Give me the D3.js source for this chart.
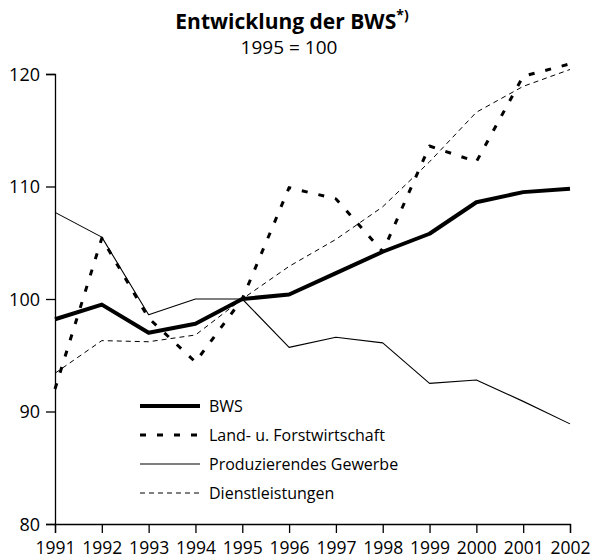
<!DOCTYPE html>
<html>
<head>
<meta charset="utf-8">
<script src="https://cdn.jsdelivr.net/npm/d3@7"></script>
<style>
  body { margin: 0; background: #fff; }
  text { font-family: "Open Sans", "DejaVu Sans", sans-serif; fill: #000; }
</style>
</head>
<body>
<script>
// data (1995 = 100)
var years = [1991, 1992, 1993, 1994, 1995, 1996, 1997, 1998, 1999, 2000, 2001, 2002];
var bws = [98.2, 99.5, 97.0, 97.8, 100, 100.4, 102.3, 104.2, 105.8, 108.6, 109.5, 109.8];
var land = [92.0, 105.4, 98.3, 94.4, 100, 109.9, 108.9, 104.2, 113.6, 112.2, 119.8, 120.9];
var prod = [107.7, 105.5, 98.6, 100.0, 100, 95.7, 96.6, 96.1, 92.5, 92.8, 90.9, 88.9];
var dienst = [93.4, 96.3, 96.2, 96.8, 100, 102.9, 105.3, 108.2, 112.2, 116.6, 118.9, 120.4];
var yTicks = [80, 90, 100, 110, 120];

var series = [
  {name: "BWS", values: bws, width: 4, dash: null},
  {name: "Land- u. Forstwirtschaft", values: land, width: 3, dash: "6,11"},
  {name: "Produzierendes Gewerbe", values: prod, width: 1.1, dash: null},
  {name: "Dienstleistungen", values: dienst, width: 1, dash: "5,4"}
];

var w = 592, h = 560;
var svg = d3.select("body").append("svg")
  .attr("width", w)
  .attr("height", h);

var x = d3.scaleLinear().domain([1991, 2002]).range([55, 570]);
var y = d3.scaleLinear().domain([80, 120]).range([524, 74]);

// title
var title = svg.append("text")
  .attr("x", 292).attr("y", 29)
  .attr("text-anchor", "middle")
  .style("font-size", "21px")
  .style("font-weight", "bold");
title.append("tspan").text("Entwicklung der BWS");
title.append("tspan").attr("dy", -9).style("font-size", "14px").text("*)");

svg.append("text")
  .attr("x", 289).attr("y", 54)
  .attr("text-anchor", "middle")
  .style("font-size", "19px")
  .text("1995 = 100");

// axes
var yAxis = svg.append("g")
  .attr("transform", "translate(55,0)")
  .call(d3.axisLeft(y).tickValues(yTicks).tickSize(9).tickPadding(6).tickFormat(d3.format("d")));
yAxis.selectAll("text").style("font-size", "18px").attr("dy", "0.35em");

var xAxis = svg.append("g")
  .attr("transform", "translate(0,524)")
  .call(d3.axisBottom(x).tickValues(years).tickSize(9).tickPadding(9).tickFormat(d3.format("d")));
xAxis.selectAll("text").style("font-size", "17.5px");

svg.selectAll(".domain").attr("stroke", "#000").attr("stroke-width", 1.3);
svg.selectAll(".tick line").attr("stroke", "#000").attr("stroke-width", 1.3);
svg.selectAll(".tick text").style("font-family", "'Open Sans', sans-serif");

// lines
var line = d3.line()
  .x(function(d, i){ return x(years[i]); })
  .y(function(d){ return y(d); });

svg.selectAll(".series")
  .data(series)
  .enter().append("path")
  .attr("class", "series")
  .attr("d", function(d){ return line(d.values); })
  .attr("fill", "none")
  .attr("stroke", "#000")
  .attr("stroke-width", function(d){ return d.width; })
  .attr("stroke-dasharray", function(d){ return d.dash; })
  .attr("stroke-linejoin", "round");

// legend
var legend = svg.selectAll(".legend")
  .data(series)
  .enter().append("g")
  .attr("class", "legend")
  .attr("transform", function(d, i){ return "translate(140," + (406 + i * 29) + ")"; });

legend.append("line")
  .attr("x1", 0).attr("x2", 60)
  .attr("stroke", "#000")
  .attr("stroke-width", function(d){ return d.width; })
  .attr("stroke-dasharray", function(d){ return d.dash; });

legend.append("text")
  .attr("x", 69).attr("dy", "0.35em")
  .style("font-size", "16px")
  .text(function(d){ return d.name; });
</script>
</body>
</html>
